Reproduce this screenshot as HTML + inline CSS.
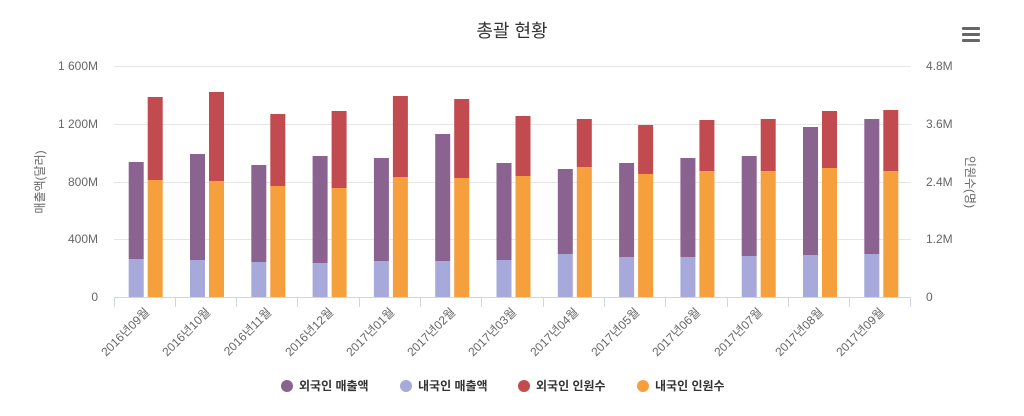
<!DOCTYPE html>
<html><head><meta charset="utf-8"><style>
body{margin:0;background:#fff}
svg{display:block;font-family:"Liberation Sans","Noto Sans CJK KR",sans-serif}
.t{font-size:12px;fill:#666}
</style></head><body>
<svg width="1024" height="416" viewBox="0 0 1024 416">
<text x="512" y="37" text-anchor="middle" font-size="18" fill="#333">총괄 현황</text>
<g fill="#666"><rect x="962" y="27" width="18" height="3" rx="1"/><rect x="962" y="33" width="18" height="3" rx="1"/><rect x="962" y="39" width="18" height="3" rx="1"/></g>
<g stroke="#e6e6e6" stroke-width="1">
<line x1="114" y1="66.5" x2="911" y2="66.5"/><line x1="114" y1="124.5" x2="911" y2="124.5"/><line x1="114" y1="182.5" x2="911" y2="182.5"/><line x1="114" y1="239.5" x2="911" y2="239.5"/>
</g>
<g class="t" text-anchor="end">
<text x="98" y="70">1 600M</text><text x="98" y="128">1 200M</text><text x="98" y="186">800M</text><text x="98" y="243">400M</text><text x="98" y="301">0</text>
</g>
<g class="t" text-anchor="start">
<text x="926" y="70">4.8M</text><text x="926" y="128">3.6M</text><text x="926" y="186">2.4M</text><text x="926" y="243">1.2M</text><text x="926" y="301">0</text>
</g>
<text class="t" transform="translate(44,182) rotate(-90)" text-anchor="middle" font-size="13">매출액(달러)</text>
<text class="t" transform="translate(966,182) rotate(90)" text-anchor="middle" font-size="13">인원수(명)</text>
<g id="bars">
<g fill="#8b6390"><rect x="128.7" y="162" width="15" height="97"/><rect x="190" y="154" width="15" height="106"/><rect x="251.3" y="165" width="15" height="97"/><rect x="312.6" y="156" width="15" height="107"/><rect x="373.9" y="158" width="15" height="103"/><rect x="435.2" y="134" width="15" height="127"/><rect x="496.5" y="163" width="15" height="97"/><rect x="557.8" y="169" width="15" height="85"/><rect x="619.1" y="163" width="15" height="94"/><rect x="680.4" y="158" width="15" height="99"/><rect x="741.7" y="156" width="15" height="100"/><rect x="803" y="127" width="15" height="128"/><rect x="864.3" y="119" width="15" height="135"/></g>
<g fill="#a6a9da"><rect x="128.7" y="259" width="15" height="38"/><rect x="190" y="260" width="15" height="37"/><rect x="251.3" y="262" width="15" height="35"/><rect x="312.6" y="263" width="15" height="34"/><rect x="373.9" y="261" width="15" height="36"/><rect x="435.2" y="261" width="15" height="36"/><rect x="496.5" y="260" width="15" height="37"/><rect x="557.8" y="254" width="15" height="43"/><rect x="619.1" y="257" width="15" height="40"/><rect x="680.4" y="257" width="15" height="40"/><rect x="741.7" y="256" width="15" height="41"/><rect x="803" y="255" width="15" height="42"/><rect x="864.3" y="254" width="15" height="43"/></g>
<g fill="#c24b4f"><rect x="147.7" y="97" width="15" height="83"/><rect x="209" y="92" width="15" height="89"/><rect x="270.3" y="114" width="15" height="72"/><rect x="331.6" y="111" width="15" height="77"/><rect x="392.9" y="96" width="15" height="81"/><rect x="454.2" y="99" width="15" height="79"/><rect x="515.5" y="116" width="15" height="60"/><rect x="576.8" y="119" width="15" height="48"/><rect x="638.1" y="125" width="15" height="49"/><rect x="699.4" y="120" width="15" height="51"/><rect x="760.7" y="119" width="15" height="52"/><rect x="822" y="111" width="15" height="57"/><rect x="883.3" y="110" width="15" height="61"/></g>
<g fill="#f6a03d"><rect x="147.7" y="180" width="15" height="117"/><rect x="209" y="181" width="15" height="116"/><rect x="270.3" y="186" width="15" height="111"/><rect x="331.6" y="188" width="15" height="109"/><rect x="392.9" y="177" width="15" height="120"/><rect x="454.2" y="178" width="15" height="119"/><rect x="515.5" y="176" width="15" height="121"/><rect x="576.8" y="167" width="15" height="130"/><rect x="638.1" y="174" width="15" height="123"/><rect x="699.4" y="171" width="15" height="126"/><rect x="760.7" y="171" width="15" height="126"/><rect x="822" y="168" width="15" height="129"/><rect x="883.3" y="171" width="15" height="126"/></g>
</g>
<g stroke="#ccd6eb" stroke-width="1">
<line x1="114" y1="297.5" x2="911" y2="297.5"/>
<line x1="114.5" y1="297" x2="114.5" y2="307"/><line x1="175.5" y1="297" x2="175.5" y2="307"/><line x1="236.5" y1="297" x2="236.5" y2="307"/><line x1="297.5" y1="297" x2="297.5" y2="307"/><line x1="359.5" y1="297" x2="359.5" y2="307"/><line x1="420.5" y1="297" x2="420.5" y2="307"/><line x1="481.5" y1="297" x2="481.5" y2="307"/><line x1="543.5" y1="297" x2="543.5" y2="307"/><line x1="604.5" y1="297" x2="604.5" y2="307"/><line x1="665.5" y1="297" x2="665.5" y2="307"/><line x1="727.5" y1="297" x2="727.5" y2="307"/><line x1="788.5" y1="297" x2="788.5" y2="307"/><line x1="849.5" y1="297" x2="849.5" y2="307"/><line x1="910.5" y1="297" x2="910.5" y2="307"/>
</g>
<g class="t" text-anchor="end" font-size="13">
<text transform="translate(150,313) rotate(-45)">2016년09월</text>
<text transform="translate(211,313) rotate(-45)">2016년10월</text>
<text transform="translate(272,313) rotate(-45)">2016년11월</text>
<text transform="translate(334,313) rotate(-45)">2016년12월</text>
<text transform="translate(395,313) rotate(-45)">2017년01월</text>
<text transform="translate(456,313) rotate(-45)">2017년02월</text>
<text transform="translate(517,313) rotate(-45)">2017년03월</text>
<text transform="translate(579,313) rotate(-45)">2017년04월</text>
<text transform="translate(640,313) rotate(-45)">2017년05월</text>
<text transform="translate(701,313) rotate(-45)">2017년06월</text>
<text transform="translate(763,313) rotate(-45)">2017년07월</text>
<text transform="translate(824,313) rotate(-45)">2017년08월</text>
<text transform="translate(885,313) rotate(-45)">2017년09월</text>
</g>
<g font-size="12" font-weight="bold" fill="#333">
<circle cx="287" cy="386" r="6" fill="#8b6390"/><text x="299" y="390">외국인 매출액</text>
<circle cx="406" cy="386" r="6" fill="#a6a9da"/><text x="418" y="390">내국인 매출액</text>
<circle cx="524" cy="386" r="6" fill="#c24b4f"/><text x="536" y="390">외국인 인원수</text>
<circle cx="643" cy="386" r="6" fill="#f6a03d"/><text x="655" y="390">내국인 인원수</text>
</g>
</svg>
</body></html>
